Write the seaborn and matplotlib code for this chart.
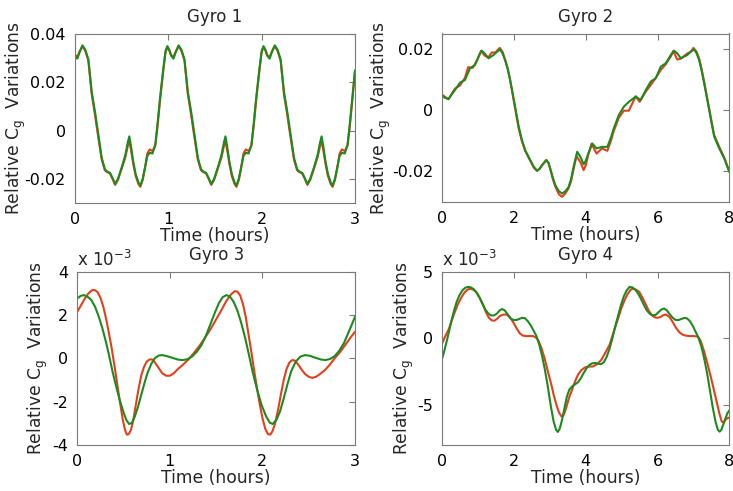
import matplotlib
matplotlib.use("Agg")
import matplotlib.pyplot as plt
import seaborn as sns

# ---------------- Gyro 1 ----------------
g1_t = [0.000, 0.025, 0.050, 0.080, 0.110, 0.143, 0.179, 0.214, 0.250, 0.286, 0.320, 0.345, 0.375, 0.400, 0.430, 0.460, 0.500, 0.540, 0.565, 0.582, 0.600, 0.625, 0.650, 0.680, 0.700, 0.725, 0.750, 0.775, 0.800, 0.830, 0.860, 0.885, 0.911, 0.946, 0.970, 0.990, 1.010,
        1.030, 1.055, 1.080, 1.110, 1.140, 1.173, 1.209, 1.244, 1.280, 1.316, 1.350, 1.375, 1.405, 1.430, 1.460, 1.490, 1.530, 1.570, 1.595, 1.612, 1.630, 1.655, 1.680, 1.710, 1.730, 1.755, 1.780, 1.805, 1.830, 1.860, 1.890, 1.915, 1.941, 1.976, 2.000, 2.020, 2.040,
        2.060, 2.085, 2.110, 2.140, 2.170, 2.203, 2.239, 2.274, 2.310, 2.346, 2.380, 2.405, 2.435, 2.460, 2.490, 2.520, 2.560, 2.600, 2.625, 2.642, 2.660, 2.685, 2.710, 2.740, 2.760, 2.785, 2.810, 2.835, 2.860, 2.890, 2.920, 2.945, 2.971, 3.000]
g1_green = [0.0305, 0.0298, 0.0325, 0.0353, 0.0335, 0.0295, 0.0161, 0.0079, -0.0016, -0.0112, -0.0160, -0.0170, -0.0175, -0.0195, -0.0221, -0.0200, -0.0153, -0.0100, -0.0050, -0.0024, -0.0065, -0.0130, -0.0180, -0.0215, -0.0228, -0.0200, -0.0153, -0.0105, -0.0092, -0.0095, -0.0060, 0.0030, 0.0134, 0.0257, 0.0330, 0.0350, 0.0335,
            0.0310, 0.0298, 0.0325, 0.0353, 0.0335, 0.0295, 0.0161, 0.0079, -0.0016, -0.0112, -0.0160, -0.0170, -0.0175, -0.0195, -0.0221, -0.0200, -0.0153, -0.0100, -0.0050, -0.0024, -0.0065, -0.0130, -0.0180, -0.0215, -0.0228, -0.0200, -0.0153, -0.0105, -0.0092, -0.0095, -0.0060, 0.0030, 0.0134, 0.0257, 0.0330, 0.0350, 0.0335,
            0.0310, 0.0298, 0.0325, 0.0353, 0.0335, 0.0295, 0.0161, 0.0079, -0.0016, -0.0112, -0.0160, -0.0170, -0.0175, -0.0195, -0.0221, -0.0200, -0.0153, -0.0100, -0.0050, -0.0024, -0.0065, -0.0130, -0.0180, -0.0215, -0.0228, -0.0200, -0.0153, -0.0105, -0.0092, -0.0095, -0.0060, 0.0030, 0.0134, 0.0250]
g1_red = [0.0315, 0.0305, 0.0328, 0.0350, 0.0330, 0.0290, 0.0150, 0.0065, -0.0030, -0.0120, -0.0165, -0.0172, -0.0178, -0.0198, -0.0225, -0.0205, -0.0158, -0.0110, -0.0065, -0.0044, -0.0080, -0.0140, -0.0188, -0.0222, -0.0233, -0.0205, -0.0155, -0.0095, -0.0078, -0.0085, -0.0062, 0.0020, 0.0125, 0.0248, 0.0325, 0.0345, 0.0332,
          0.0312, 0.0305, 0.0328, 0.0350, 0.0330, 0.0290, 0.0150, 0.0065, -0.0030, -0.0120, -0.0165, -0.0172, -0.0178, -0.0198, -0.0225, -0.0205, -0.0158, -0.0110, -0.0065, -0.0044, -0.0080, -0.0140, -0.0188, -0.0222, -0.0233, -0.0205, -0.0155, -0.0095, -0.0078, -0.0085, -0.0062, 0.0020, 0.0125, 0.0248, 0.0325, 0.0345, 0.0332,
          0.0312, 0.0305, 0.0328, 0.0350, 0.0330, 0.0290, 0.0150, 0.0065, -0.0030, -0.0120, -0.0165, -0.0172, -0.0178, -0.0198, -0.0225, -0.0205, -0.0158, -0.0110, -0.0065, -0.0044, -0.0080, -0.0140, -0.0188, -0.0222, -0.0233, -0.0205, -0.0155, -0.0095, -0.0078, -0.0085, -0.0062, 0.0020, 0.0125, 0.0245]

# ---------------- Gyro 2 ----------------
g2_t_green = [0.00, 0.17, 0.35, 0.49, 0.63, 0.77, 0.91, 1.05, 1.10, 1.18, 1.29, 1.43, 1.52, 1.61, 1.68, 1.75, 1.82, 1.89, 1.96, 2.03, 2.13, 2.22, 2.31, 2.45, 2.55, 2.64, 2.71, 2.78, 2.90, 2.96, 3.01, 3.08, 3.15, 3.25, 3.34, 3.43, 3.52, 3.59, 3.66, 3.76, 3.85, 3.94, 4.00, 4.07, 4.18, 4.30, 4.45, 4.60, 4.70, 4.78, 4.92, 5.06, 5.20, 5.39, 5.53, 5.67, 5.81, 5.95, 6.09, 6.23, 6.37, 6.46, 6.55, 6.65, 6.83, 6.92, 7.02, 7.09, 7.16, 7.23, 7.30, 7.37, 7.44, 7.51, 7.58, 7.72, 7.86, 8.00]
g2_green = [0.0044, 0.0036, 0.0065, 0.0089, 0.0098, 0.0136, 0.0147, 0.0185, 0.0194, 0.0185, 0.0169, 0.0180, 0.0190, 0.0198, 0.0185, 0.0163, 0.0135, 0.0098, 0.0055, 0.0011, -0.0054, -0.0098, -0.0131, -0.0163, -0.0185, -0.0198, -0.0192, -0.0180, -0.0163, -0.0172, -0.0191, -0.0220, -0.0245, -0.0265, -0.0272, -0.0265, -0.0251, -0.0225, -0.0185, -0.0136, -0.0153, -0.0177, -0.0165, -0.0142, -0.0109, -0.0125, -0.0120, -0.0120, -0.0090, -0.0060, -0.0016, 0.0011, 0.0027, 0.0044, 0.0033, 0.0065, 0.0093, 0.0104, 0.0142, 0.0153, 0.0180, 0.0194, 0.0185, 0.0169, 0.0180, 0.0190, 0.0198, 0.0185, 0.0163, 0.0128, 0.0087, 0.0043, 0.0000, -0.0045, -0.0087, -0.0125, -0.0158, -0.0202]
g2_t_red = [0.00, 0.17, 0.35, 0.49, 0.63, 0.72, 0.85, 0.98, 1.08, 1.18, 1.28, 1.38, 1.48, 1.60, 1.68, 1.75, 1.82, 1.89, 1.96, 2.03, 2.13, 2.22, 2.31, 2.45, 2.55, 2.64, 2.71, 2.78, 2.90, 2.96, 3.01, 3.08, 3.15, 3.25, 3.34, 3.43, 3.52, 3.59, 3.66, 3.74, 3.85, 3.94, 4.00, 4.07, 4.16, 4.30, 4.45, 4.60, 4.70, 4.78, 4.92, 5.06, 5.20, 5.39, 5.50, 5.67, 5.81, 5.95, 6.09, 6.23, 6.37, 6.44, 6.55, 6.65, 6.83, 6.92, 7.00, 7.09, 7.16, 7.23, 7.30, 7.37, 7.44, 7.51, 7.58, 7.72, 7.86, 8.00]
g2_red = [0.0050, 0.0035, 0.0070, 0.0080, 0.0105, 0.0140, 0.0138, 0.0165, 0.0193, 0.0178, 0.0172, 0.0188, 0.0188, 0.0203, 0.0190, 0.0165, 0.0138, 0.0100, 0.0052, 0.0005, -0.0060, -0.0102, -0.0133, -0.0165, -0.0188, -0.0198, -0.0192, -0.0180, -0.0163, -0.0173, -0.0193, -0.0225, -0.0250, -0.0275, -0.0283, -0.0272, -0.0255, -0.0232, -0.0192, -0.0150, -0.0170, -0.0196, -0.0180, -0.0145, -0.0110, -0.0142, -0.0125, -0.0133, -0.0100, -0.0068, -0.0025, -0.0002, -0.0002, 0.0045, 0.0027, 0.0060, 0.0082, 0.0105, 0.0131, 0.0150, 0.0175, 0.0193, 0.0165, 0.0168, 0.0185, 0.0190, 0.0203, 0.0190, 0.0168, 0.0133, 0.0092, 0.0048, 0.0005, -0.0040, -0.0082, -0.0120, -0.0155, -0.0200]

# ---------------- Gyro 3 (x 10^-3) ----------------
g3_t_green = [0.00, 0.035, 0.07, 0.11, 0.15, 0.19, 0.23, 0.27, 0.31, 0.345, 0.38, 0.42, 0.46, 0.50, 0.53, 0.56, 0.59, 0.62, 0.655, 0.69, 0.725, 0.76, 0.80, 0.84, 0.88, 0.92, 0.97, 1.03, 1.09, 1.14, 1.19, 1.24, 1.29, 1.34, 1.39, 1.44, 1.49, 1.53, 1.57, 1.61, 1.65, 1.69, 1.73, 1.77, 1.81, 1.85, 1.89, 1.94, 1.99, 2.04, 2.08, 2.11, 2.15, 2.19, 2.23, 2.27, 2.31, 2.36, 2.41, 2.46, 2.51, 2.57, 2.63, 2.68, 2.73, 2.78, 2.83, 2.88, 2.92, 2.96, 3.00]
g3_green = [2.77, 2.88, 2.92, 2.85, 2.70, 2.40, 1.95, 1.40, 0.75, 0.10, -0.60, -1.30, -1.95, -2.50, -2.85, -3.03, -2.98, -2.70, -2.25, -1.70, -1.15, -0.65, -0.25, 0.02, 0.13, 0.15, 0.10, 0.02, -0.06, -0.08, -0.04, 0.08, 0.30, 0.60, 1.05, 1.60, 2.15, 2.55, 2.82, 2.92, 2.85, 2.60, 2.20, 1.65, 1.00, 0.25, -0.55, -1.40, -2.15, -2.68, -2.97, -3.03, -2.85, -2.45, -1.85, -1.20, -0.60, -0.15, 0.08, 0.15, 0.12, 0.03, -0.05, -0.08, -0.03, 0.10, 0.35, 0.70, 1.10, 1.50, 1.92]
g3_t_red = [0.00, 0.04, 0.08, 0.12, 0.16, 0.19, 0.22, 0.25, 0.28, 0.31, 0.34, 0.37, 0.40, 0.43, 0.46, 0.49, 0.515, 0.535, 0.555, 0.58, 0.605, 0.63, 0.66, 0.69, 0.72, 0.75, 0.78, 0.81, 0.84, 0.88, 0.92, 0.96, 1.00, 1.04, 1.09, 1.14, 1.20, 1.26, 1.32, 1.38, 1.44, 1.50, 1.56, 1.61, 1.66, 1.70, 1.73, 1.76, 1.79, 1.82, 1.85, 1.88, 1.91, 1.94, 1.97, 2.00, 2.03, 2.06, 2.085, 2.11, 2.14, 2.17, 2.20, 2.23, 2.26, 2.29, 2.32, 2.35, 2.38, 2.42, 2.46, 2.50, 2.54, 2.58, 2.63, 2.68, 2.73, 2.78, 2.84, 2.90, 2.95, 3.00]
g3_red = [2.15, 2.45, 2.75, 3.00, 3.15, 3.15, 3.05, 2.80, 2.40, 1.85, 1.20, 0.50, -0.30, -1.15, -2.00, -2.80, -3.30, -3.52, -3.50, -3.30, -2.85, -2.20, -1.45, -0.80, -0.40, -0.15, -0.05, -0.05, -0.20, -0.45, -0.70, -0.80, -0.80, -0.70, -0.48, -0.30, -0.05, 0.25, 0.58, 0.95, 1.35, 1.80, 2.25, 2.65, 2.95, 3.10, 3.08, 2.90, 2.50, 1.90, 1.10, 0.30, -0.55, -1.35, -2.10, -2.75, -3.25, -3.50, -3.52, -3.35, -2.95, -2.35, -1.65, -1.00, -0.50, -0.20, -0.08, -0.10, -0.25, -0.50, -0.72, -0.85, -0.90, -0.85, -0.70, -0.52, -0.28, 0.00, 0.30, 0.65, 0.95, 1.23]

# ---------------- Gyro 4 (x 10^-3) ----------------
g4_t_green = [0.00, 0.06, 0.12, 0.19, 0.26, 0.33, 0.40, 0.48, 0.56, 0.64, 0.72, 0.80, 0.88, 0.96, 1.04, 1.12, 1.20, 1.28, 1.36, 1.44, 1.52, 1.60, 1.67, 1.74, 1.82, 1.90, 1.98, 2.06, 2.14, 2.22, 2.30, 2.38, 2.46, 2.54, 2.62, 2.70, 2.78, 2.86, 2.94, 3.02, 3.10, 3.17, 3.22, 3.27, 3.33, 3.40, 3.47, 3.54, 3.62, 3.70, 3.78, 3.86, 3.94, 4.02, 4.10, 4.18, 4.26, 4.34, 4.42, 4.50, 4.58, 4.66, 4.74, 4.82, 4.90, 4.98, 5.06, 5.14, 5.22, 5.30, 5.38, 5.46, 5.54, 5.62, 5.70, 5.78, 5.86, 5.94, 6.02, 6.10, 6.18, 6.26, 6.34, 6.42, 6.50, 6.58, 6.66, 6.74, 6.82, 6.90, 6.98, 7.06, 7.14, 7.22, 7.30, 7.38, 7.46, 7.54, 7.62, 7.68, 7.73, 7.78, 7.84, 7.90, 7.95, 8.00]
g4_green = [-1.49, -0.90, -0.25, 0.55, 1.37, 2.10, 2.74, 3.25, 3.60, 3.80, 3.86, 3.82, 3.68, 3.40, 3.05, 2.60, 2.15, 1.87, 1.72, 1.72, 1.85, 2.10, 2.20, 2.10, 1.80, 1.50, 1.38, 1.37, 1.45, 1.54, 1.52, 1.30, 1.00, 0.60, 0.20, -0.45, -1.30, -2.35, -3.60, -5.00, -6.20, -6.85, -7.02, -6.80, -6.20, -5.30, -4.40, -3.85, -3.60, -3.45, -3.30, -3.00, -2.60, -2.25, -2.00, -1.87, -1.85, -1.90, -1.94, -1.80, -1.40, -0.80, 0.00, 0.90, 1.70, 2.50, 3.15, 3.60, 3.86, 3.82, 3.65, 3.35, 2.95, 2.50, 2.10, 1.85, 1.72, 1.75, 1.95, 2.15, 2.24, 2.10, 1.80, 1.55, 1.38, 1.37, 1.45, 1.53, 1.50, 1.30, 0.95, 0.50, 0.05, -0.60, -1.50, -2.60, -3.90, -5.20, -6.30, -6.85, -7.00, -6.85, -6.40, -5.95, -5.60, -5.40]
g4_t_red = [0.00, 0.08, 0.17, 0.26, 0.35, 0.44, 0.54, 0.62, 0.70, 0.78, 0.86, 0.95, 1.04, 1.14, 1.22, 1.30, 1.38, 1.45, 1.52, 1.60, 1.70, 1.79, 1.88, 1.97, 2.06, 2.16, 2.25, 2.34, 2.44, 2.53, 2.60, 2.67, 2.76, 2.85, 2.94, 3.04, 3.11, 3.18, 3.25, 3.32, 3.37, 3.42, 3.48, 3.54, 3.60, 3.69, 3.78, 3.87, 3.97, 4.08, 4.20, 4.31, 4.43, 4.54, 4.66, 4.78, 4.90, 4.99, 5.08, 5.17, 5.25, 5.31, 5.40, 5.49, 5.58, 5.68, 5.76, 5.84, 5.92, 6.00, 6.08, 6.16, 6.24, 6.33, 6.42, 6.51, 6.61, 6.70, 6.79, 6.90, 7.00, 7.10, 7.15, 7.21, 7.30, 7.40, 7.49, 7.58, 7.66, 7.73, 7.79, 7.84, 7.90, 7.95, 8.00]
g4_red = [-0.37, 0.15, 0.62, 1.30, 1.99, 2.60, 3.11, 3.45, 3.65, 3.73, 3.65, 3.48, 3.05, 2.49, 1.95, 1.54, 1.35, 1.32, 1.45, 1.67, 1.78, 1.79, 1.60, 1.24, 0.80, 0.37, 0.20, 0.17, 0.17, 0.17, 0.08, -0.12, -0.70, -1.49, -2.45, -3.48, -4.30, -4.98, -5.55, -5.85, -5.80, -5.50, -4.95, -4.40, -3.98, -3.30, -2.74, -2.40, -2.19, -2.12, -2.11, -1.95, -1.62, -1.10, -0.50, 0.50, 1.49, 2.25, 2.86, 3.35, 3.65, 3.73, 3.65, 3.48, 3.05, 2.49, 2.05, 1.74, 1.58, 1.54, 1.60, 1.74, 1.79, 1.60, 1.24, 0.80, 0.45, 0.28, 0.20, 0.17, 0.17, 0.15, 0.05, -0.25, -1.00, -1.99, -2.95, -3.98, -4.90, -5.70, -6.25, -6.30, -6.10, -5.98, -5.95]

titles = ["Gyro 1", "Gyro 2", "Gyro 3", "Gyro 4"]
xlabel = "Time (hours)"
ylabel = r"Relative C$_{\mathrm{g}}$  Variations"
scale_label = r"x 10$^{-3}$"

RED = "#E2401C"
GREEN = "#1E8A1E"
GRAY = "#7a7a7a"

sns.set_style("white")
plt.rcParams["font.family"] = ["DejaVu Sans"]
plt.rcParams["axes.unicode_minus"] = False
plt.rcParams["mathtext.fontset"] = "dejavusans"

fig = plt.figure(figsize=(7.33, 4.91), dpi=100)
fig.patch.set_facecolor("white")

W, H = 733.0, 491.0
def box(l, t, r, b):
    return [l / W, 1 - b / H, (r - l) / W, (b - t) / H]

axes = [
    fig.add_axes(box(75, 34, 355, 203)),
    fig.add_axes(box(442.3, 33.5, 729.3, 202)),
    fig.add_axes(box(77.3, 271.7, 355, 445)),
    fig.add_axes(box(442.3, 271.7, 729.3, 445)),
]

panels = [
    (g1_t, g1_red, g1_t, g1_green, (0, 3), (-0.03, 0.04), [0, 1, 2, 3], [-0.02, 0, 0.02, 0.04], ["-0.02", "0", "0.02", "0.04"], -0.168),
    (g2_t_red, g2_red, g2_t_green, g2_green, (0, 8), (-0.03, 0.025), [0, 2, 4, 6, 8], [-0.02, 0, 0.02], ["-0.02", "0", "0.02"], -0.172),
    (g3_t_red, g3_red, g3_t_green, g3_green, (0, 3), (-4, 4), [0, 1, 2, 3], [-4, -2, 0, 2, 4], ["-4", "-2", "0", "2", "4"], -0.1),
    (g4_t_red, g4_red, g4_t_green, g4_green, (0, 8), (-8, 5), [0, 2, 4, 6, 8], [-5, 0, 5], ["-5", "0", "5"], -0.09),
]

for i, (ax, p) in enumerate(zip(axes, panels)):
    tr, vr, tg, vg, xl, yl, xt, yt, ytl, ylx = p
    sns.lineplot(x=tr, y=vr, ax=ax, color=RED, linewidth=1.5, estimator=None)
    sns.lineplot(x=tg, y=vg, ax=ax, color=GREEN, linewidth=1.5, estimator=None)
    ax.set_xlim(*xl)
    ax.set_ylim(*yl)
    ax.set_xticks(xt)
    ax.set_xticklabels([str(v) for v in xt])
    ax.set_yticks(yt)
    ax.set_yticklabels(ytl)
    ax.tick_params(direction="in", length=4, width=0.8, color=GRAY,
                   top=True, right=True, labelsize=11.5, pad=6.5, labelcolor="black")
    for s in ax.spines.values():
        s.set_color(GRAY)
        s.set_linewidth(0.8)
    ax.set_title(titles[i], fontsize=12, pad=8.5)
    ax.set_xlabel(xlabel, fontsize=12.3, labelpad=0)
    ax.set_ylabel(ylabel, fontsize=12.3)
    ax.yaxis.set_label_coords(ylx, 0.5)
    if i >= 2:
        ax.text(0.0, 1.008, scale_label, transform=ax.transAxes, ha="left", va="bottom", fontsize=12)

fig.savefig("out.png", dpi=100, facecolor="white")
